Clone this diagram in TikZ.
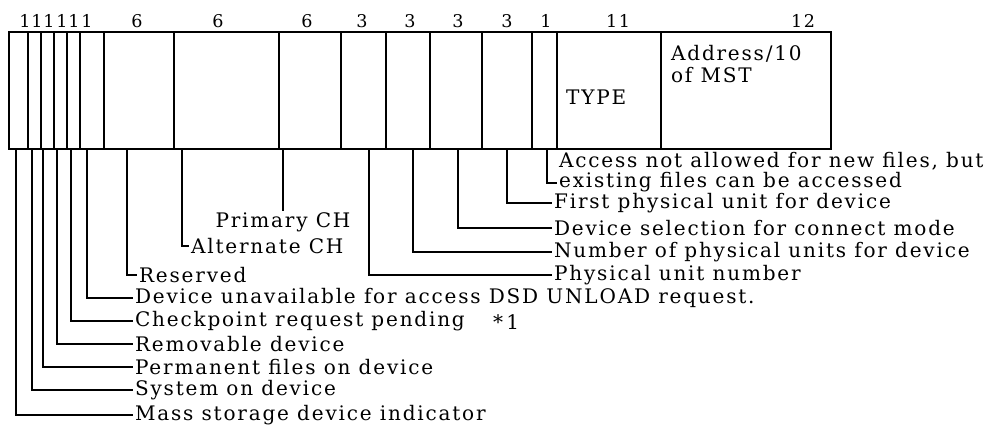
\documentclass[tikz,border=0pt]{standalone}
\usepackage{fontspec}
\setmainfont{DejaVu Serif}[LetterSpace=9]
\begin{document}
\begin{tikzpicture}[x=0.02cm, y=-0.02cm,
        lbl/.style={anchor=west, inner sep=1pt, font=\fontsize{11.4}{12.5}\selectfont},
        bits/.style={inner sep=0pt, font=\fontsize{10}{11}\selectfont},
        lead/.style={line width=0.9pt}]
        \useasboundingbox (0, 0) rectangle (994, 430);
        \draw[line width=1.4pt] (9, 32) rectangle (831, 149);
        \draw[line width=0.9pt] (28, 32) -- (28, 149) (41, 32) -- (41, 149)
                (54, 32) -- (54, 149) (67, 32) -- (67, 149) (80, 32) -- (80, 149)
                (104, 32) -- (104, 149) (174, 32) -- (174, 149) (279, 32) -- (279, 149)
                (341, 32) -- (341, 149) (386, 32) -- (386, 149) (430, 32) -- (430, 149)
                (482, 32) -- (482, 149) (532, 32) -- (532, 149) (557, 32) -- (557, 149)
                (661, 32) -- (661, 149);

        \node[bits] (w1) at (25, 21) {1};
        \node[bits] (w2) at (37, 21) {1};
        \node[bits] (w3) at (49, 21) {1};
        \node[bits] (w4) at (62, 21) {1};
        \node[bits] (w5) at (74, 21) {1};
        \node[bits] (w6) at (87, 21) {1};
        \node[bits] (w7) at (137, 21) {6};
        \node[bits] (w8) at (218, 21) {6};
        \node[bits] (w9) at (307, 21) {6};
        \node[bits] (w10) at (362, 21) {3};
        \node[bits] (w11) at (410, 21) {3};
        \node[bits] (w12) at (458, 21) {3};
        \node[bits] (w13) at (507, 21) {3};
        \node[bits] (w14) at (546, 21) {1};
        \node[bits] (w15) at (618, 21) {11};
        \node[bits] (w16) at (803, 21) {12};

        \node[lbl] (type) at (564, 97) {TYPE};
        \node[lbl, align=left] (mst) at (669, 64) {Address/10\\of MST};

        \coordinate (b1) at (16, 149);
        \coordinate (b2) at (32, 149);
        \coordinate (b3) at (43, 149);
        \coordinate (b4) at (57, 149);
        \coordinate (b5) at (71, 149);
        \coordinate (b6) at (87, 149);
        \coordinate (b7) at (127, 149);
        \coordinate (b8) at (182, 149);
        \coordinate (b9) at (283, 149);
        \coordinate (b10) at (369, 149);
        \coordinate (b11) at (413, 149);
        \coordinate (b12) at (458, 149);
        \coordinate (b13) at (507, 149);
        \coordinate (b14) at (547, 149);

        \node[lbl] (mass) at (133, 415) {Mass storage device indicator};
        \node[lbl] (sys) at (133, 390) {System on device};
        \node[lbl] (perm) at (133, 367) {Permanent files on device};
        \node[lbl] (remov) at (133, 344) {Removable device};
        \node[lbl] (chk) at (133, 321) {Checkpoint request pending};
        \node[lbl] (star) at (491, 322) {*\,1};
        \node[lbl] (unav) at (133, 298) {Device unavailable for access DSD UNLOAD request.};
        \node[lbl] (resv) at (137, 275) {Reserved};
        \node[lbl] (alt) at (189, 246) {Alternate CH};
        \node[lbl, anchor=north] (prim) at (283, 211) {Primary CH};
        \node[lbl] (phys) at (552, 275) {Physical unit number};
        \node[lbl] (numb) at (552, 252) {Number of physical units for device};
        \node[lbl] (dsel) at (552, 228) {Device selection for connect mode};
        \node[lbl] (first) at (552, 203) {First physical unit for device};
        \node[lbl, align=left, font=\fontsize{11.4}{9.6}\selectfont] (acc) at (557, 172)
                {Access not allowed for new files, but\\existing files can be accessed};

        \draw[lead] (b1) |- (mass.west);
        \draw[lead] (b2) |- (sys.west);
        \draw[lead] (b3) |- (perm.west);
        \draw[lead] (b4) |- (remov.west);
        \draw[lead] (b5) |- (chk.west);
        \draw[lead] (b6) |- (unav.west);
        \draw[lead] (b7) |- (resv.west);
        \draw[lead] (b8) |- (alt.west);
        \draw[lead] (b9) -- (prim.north);
        \draw[lead] (b10) |- (phys.west);
        \draw[lead] (b11) |- (numb.west);
        \draw[lead] (b12) |- (dsel.west);
        \draw[lead] (b13) |- (first.west);
        \draw[lead] (b14) |- ([yshift=6pt]acc.south west);
\end{tikzpicture}
\end{document}
